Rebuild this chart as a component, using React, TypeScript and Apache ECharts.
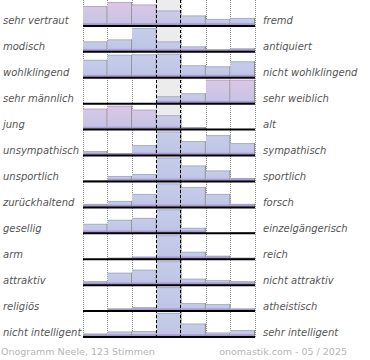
import React, { useEffect, useRef } from "react";
import * as echarts from "echarts";

const leftLabels = [
  "sehr vertraut", "modisch", "wohlklingend", "sehr männlich", "jung",
  "unsympathisch", "unsportlich", "zurückhaltend", "gesellig", "arm",
  "attraktiv", "religiös", "nicht intelligent",
];
const rightLabels = [
  "fremd", "antiquiert", "nicht wohlklingend", "sehr weiblich", "alt",
  "sympathisch", "sportlich", "forsch", "einzelgängerisch", "reich",
  "nicht attraktiv", "atheistisch", "sehr intelligent",
];
const scaleSteps = [0, 1, 2, 3, 4, 5, 6];
// relative vote shares per row, 7 steps from left pole to right pole
const votes = [
  [20, 24, 21.5, 15.5, 10.5, 7, 8],
  [10.5, 12.5, 24, 10.5, 5.5, 2.5, 3.5],
  [18, 23, 23.5, 24, 12.5, 11.5, 16.5],
  [0, 0, 0, 7.5, 10.5, 24, 24],
  [21, 24, 20, 14.5, 2.5, 0, 0],
  [4.5, 2.5, 10.5, 24, 14.5, 20.5, 12.5],
  [1, 5.5, 7.5, 24, 16, 11, 3.5],
  [3.5, 6.5, 13.5, 24, 20.5, 13.5, 3.5],
  [9.5, 13.5, 15.5, 24, 5.5, 0, 1],
  [0, 1.5, 2.5, 24, 7.5, 3.5, 1.5],
  [4, 12.5, 15.5, 24, 6.5, 5, 4],
  [0, 2.5, 4, 24, 8, 7, 2.5],
  [3.5, 5.5, 6, 24, 13.5, 4.5, 7],
];
// pink tint of each bar (0 = blue, 1 = pink)
const pinkTint = [
  [0.8, 1, 0.85, 0.35, 0.15, 0, 0],
  [0, 0, 0, 0, 0, 0, 0],
  [0, 0, 0, 0, 0, 0, 0],
  [0, 0, 0, 0.1, 0.15, 0.9, 1],
  [0.7, 0.95, 0.7, 0.3, 0, 0, 0],
  [0, 0, 0, 0, 0, 0, 0],
  [0, 0, 0, 0, 0, 0, 0],
  [0, 0, 0, 0, 0, 0, 0],
  [0, 0, 0, 0, 0, 0, 0],
  [0, 0, 0, 0, 0, 0, 0],
  [0, 0, 0, 0, 0, 0, 0],
  [0, 0, 0, 0, 0, 0, 0],
  [0, 0, 0, 0, 0, 0, 0],
];
const neutralStep = 3;
const footerLeft = "Onogramm Neele, 123 Stimmen";
const footerRight = "onomastik.com - 05 / 2025";

const FONT = "DejaVu Sans";
const BLUE = [198, 205, 234];
const PINK = [222, 198, 230];
const BOTTOM = [190, 195, 228];

function mix(a: number[], b: number[], t: number) {
  const c = a.map((v, i) => Math.round(v + (b[i] - v) * t));
  return `rgb(${c[0]},${c[1]},${c[2]})`;
}

export default function App() {
  const ref = useRef<HTMLDivElement>(null);
  useEffect(() => {
    document.body.style.margin = "0";
    const chart = echarts.init(ref.current!, null, { renderer: "svg" });

    const renderRow = (params: any, api: any) => {
      const row = api.value(1);
      const vals = votes[row];
      const rowMax = Math.max(...vals);
      const band = api.size([0, 1])[1];
      const baseline = api.coord([0, row])[1] + band / 2;
      const maxH = (band * 24) / 26;
      const children: any[] = [];
      vals.forEach((v: number, j: number) => {
        const x0 = api.coord([scaleSteps[j], row])[0];
        const x1 = api.coord([scaleSteps[j] + 1, row])[0];
        const h = (v / rowMax) * maxH;
        if (h <= 0.05) return;
        const top = baseline - h;
        const t = pinkTint[row][j];
        children.push({
          type: "rect",
          shape: { x: x0, y: top, width: x1 - x0, height: h },
          style: {
            fill: new echarts.graphic.LinearGradient(0, 0, 0, 1, [
              { offset: 0, color: mix(BLUE, PINK, t) },
              { offset: 1, color: mix(BOTTOM, [205, 195, 228], t * 0.4) },
            ]),
          },
        });
        const bh = Math.min(3, h);
        children.push({
          type: "rect",
          shape: { x: x0, y: baseline - bh, width: x1 - x0, height: bh },
          style: {
            fill: new echarts.graphic.LinearGradient(0, 0, 0, 1, [
              { offset: 0, color: "#b3a9d8" },
              { offset: 1, color: "#9689c2" },
            ]),
          },
        });
        children.push({
          type: "line",
          shape: { x1: x0, y1: top + 0.5, x2: x1, y2: top + 0.5 },
          style: { stroke: "rgba(150,150,165,0.55)", lineWidth: 1 },
        });
        children.push({
          type: "line",
          shape: { x1: x1 - 0.5, y1: top, x2: x1 - 0.5, y2: baseline },
          style: { stroke: "#8e8e8e", lineWidth: 1 },
        });
      });
      const xa = api.coord([0, row])[0];
      const xb = api.coord([7, row])[0];
      children.push({
        type: "line",
        shape: { x1: xa, y1: baseline, x2: xb, y2: baseline },
        style: { stroke: "#000", lineWidth: 2 },
      });
      return { type: "group", children };
    };

    const renderNeutral = (params: any, api: any) => {
      const cs = params.coordSys;
      const x0 = api.coord([api.value(0), 0])[0];
      const x1 = api.coord([api.value(0) + 1, 0])[0];
      return {
        type: "rect",
        shape: { x: x0, y: cs.y, width: x1 - x0, height: cs.height },
        style: { fill: "#ececec" },
      };
    };

    const renderGuide = (params: any, api: any) => {
      const cs = params.coordSys;
      const x = Math.round(api.coord([api.value(0), 0])[0]) - 0.5;
      return {
        type: "line",
        shape: { x1: x, y1: cs.y, x2: x, y2: cs.y + cs.height + 2 },
        style: { stroke: "#000", lineWidth: 1, lineDash: [3, 2] },
      };
    };

    const labelStyle = {
      fontFamily: FONT,
      fontSize: 10,
      fontStyle: "italic" as const,
      color: "#555",
      verticalAlign: "top" as const,
      lineHeight: 12,
      padding: [2, 0, 0, 0],
    };

    chart.setOption({
      animation: false,
      grid: { left: 80, right: 115, top: -1, bottom: 23, containLabel: false },
      title: [
        {
          text: footerLeft,
          left: 1,
          top: 346,
          padding: 0,
          textStyle: { fontFamily: FONT, fontSize: 9.5, fontWeight: "normal", color: "#b5b5b5" },
        },
        {
          text: footerRight,
          right: 23,
          top: 346,
          padding: 0,
          textStyle: { fontFamily: FONT, fontSize: 9.5, fontWeight: "normal", color: "#b5b5b5" },
        },
      ],
      xAxis: {
        type: "value",
        min: 0,
        max: 7,
        interval: 1,
        axisLabel: { show: false },
        axisLine: { show: false },
        axisTick: { show: false },
        splitLine: { show: true, lineStyle: { type: "dotted", color: "#888", width: 1 } },
      },
      yAxis: [
        {
          type: "category",
          data: leftLabels,
          inverse: true,
          position: "left",
          axisLine: { show: false },
          axisTick: { show: false },
          splitLine: { show: false },
          axisLabel: { ...labelStyle, align: "left", margin: 80 },
        },
        {
          type: "category",
          data: rightLabels,
          inverse: true,
          position: "right",
          axisLine: { show: false },
          axisTick: { show: false },
          splitLine: { show: false },
          axisLabel: { ...labelStyle, align: "left", margin: 8 },
        },
      ],
      series: [
        {
          type: "custom",
          z: 1,
          silent: true,
          renderItem: renderNeutral,
          encode: { x: 0, y: 1 },
          data: [[neutralStep, 0]],
        },
        {
          type: "custom",
          z: 2,
          silent: true,
          renderItem: renderRow,
          encode: { x: 0, y: 1 },
          data: leftLabels.map((_, i) => [0, i]),
        },
        {
          type: "custom",
          z: 5,
          silent: true,
          renderItem: renderGuide,
          encode: { x: 0, y: 1 },
          data: [[neutralStep, 0], [neutralStep + 1, 0]],
        },
      ],
    });
    return () => chart.dispose();
  }, []);
  return <div ref={ref} style={{ width: 370, height: 360 }} />;
}
